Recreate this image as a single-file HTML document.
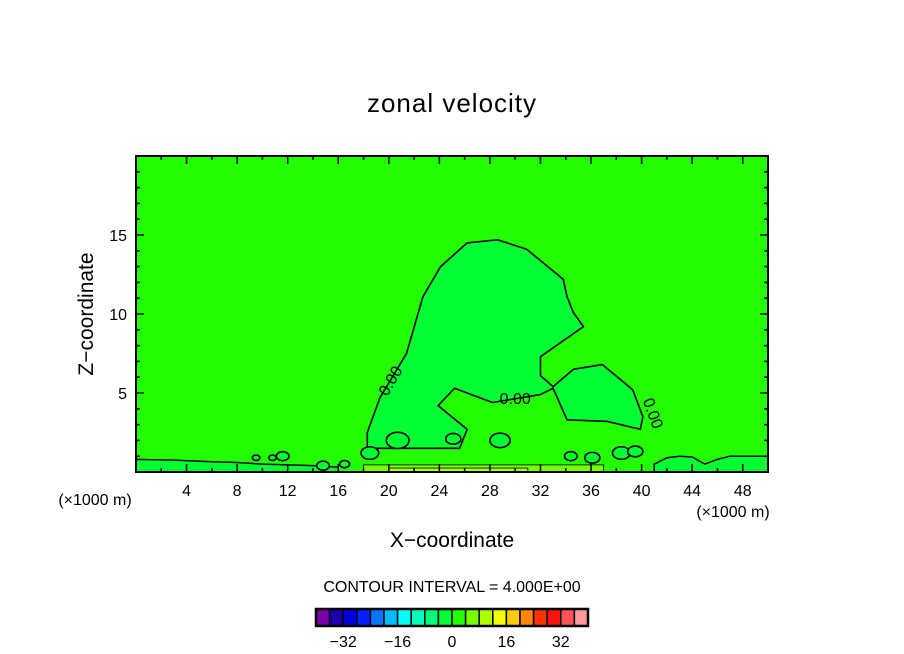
<!DOCTYPE html>
<html><head><meta charset="utf-8">
<style>
html,body{margin:0;padding:0;background:#fff;}
svg{display:block;font-family:"Liberation Sans",sans-serif;}
</style></head>
<body>
<svg id="chart" width="904" height="654" viewBox="0 0 904 654">
<text x="452" y="112" text-anchor="middle" font-size="26" letter-spacing="1">zonal velocity</text>
<g id="plot"></g>
<g id="axes"></g>
<text x="452" y="547" text-anchor="middle" font-size="21">X−coordinate</text>
<text x="93" y="314" text-anchor="middle" font-size="21" transform="rotate(-90 93 314)">Z−coordinate</text>
<text x="95" y="505" text-anchor="middle" font-size="16">(×1000 m)</text>
<text x="733" y="517" text-anchor="middle" font-size="16">(×1000 m)</text>
<text x="452" y="592" text-anchor="middle" font-size="16">CONTOUR INTERVAL = 4.000E+00</text>
<g id="cbar"></g>
</svg>
<script>
// data
const xTicks=[4,8,12,16,20,24,28,32,36,40,44,48];
const yTicks=[5,10,15];
const cbarColors=["#7a00aa","#1a00aa","#0000dd","#0022ff","#0077ff","#00bbff","#00ffff","#00ffbb","#00ff77","#00ff33","#22ff00","#77ff00","#aaff00","#eeff00","#ffcc00","#ff8800","#ff3300","#ff1111","#ff5555","#ff9999"];
const cbarLabels=[-32,-16,0,16,32];
const blobX=[18.3,18.3,19.3,21.4,22.7,24.1,26.2,28.6,30.9,33.8,34.1,34.6,35.4,32.0,32.0,33.0,34.6,36.9,39.3,40.1,39.9,37.3,34.1,33.0,32.0,28.2,25.2,23.9,26.2,25.6];
const blobZ=[1.5,2.5,4.7,7.5,11.1,13.0,14.5,14.7,14.1,12.2,11.1,10.1,9.2,7.3,6.1,5.4,6.5,6.8,5.2,3.5,2.7,3.2,3.3,5.3,4.9,4.4,5.3,4.2,2.7,1.5];
const bandLX=[0,3,6,8,10,12,14,16];
const bandLZ=[0.8,0.75,0.65,0.6,0.5,0.45,0.4,0.3];
const bandRX=[41,42,43,44,45,46,47,48,50];
const bandRZ=[0.5,0.9,1.0,0.95,0.5,0.8,1.0,1.0,1.0];
const isleX=[9.5,10.8,11.6,18.5,20.7,25.1,28.8,34.4,36.1,38.4,39.5,14.8,16.5];
const isleZ=[0.9,0.9,1.0,1.2,2.0,2.1,2.0,1.0,0.9,1.2,1.3,0.4,0.5];
const isleR=[0.3,0.3,0.5,0.7,0.9,0.6,0.8,0.5,0.6,0.7,0.6,0.5,0.4];
// axis functions
const X0=136,X1=768,Y0=472,Y1=156;
const sx=v=>X0+(v/50)*(X1-X0);
const sz=v=>Y0-(v/20)*(Y0-Y1);
const NS="http://www.w3.org/2000/svg";
function mk(tag,attrs,parent){const e=document.createElementNS(NS,tag);for(const k in attrs)e.setAttribute(k,attrs[k]);parent.appendChild(e);return e;}
const plot=document.getElementById('plot');
const bg=mk('rect',{x:X0,y:Y1,width:X1-X0,height:Y0-Y1,fill:'#22ff00'},plot);


let d='M'+sx(0)+','+sz(0);
bandLX.forEach((x,i)=>{d+=' L'+sx(x)+','+sz(bandLZ[i]);});
d+=' L'+sx(16)+','+sz(0)+'Z';
const bl=mk('path',{d:d,fill:'#00ff33',stroke:'#000','stroke-width':1.5},plot);


d='M'+sx(41)+','+sz(0);
bandRX.forEach((x,i)=>{d+=' L'+sx(x)+','+sz(bandRZ[i]);});
d+=' L'+sx(50)+','+sz(0)+'Z';
const br=mk('path',{d:d,fill:'#00ff33',stroke:'#000','stroke-width':1.5},plot);


const yb=mk('rect',{x:sx(18),y:sz(0.45),width:sx(37)-sx(18),height:sz(0)-sz(0.45),fill:'#77ff00',stroke:'#000','stroke-width':0.8},plot);


const yb2=mk('rect',{x:sx(20),y:sz(0.25),width:sx(31)-sx(20),height:sz(0)-sz(0.25),fill:'#aaff00',stroke:'#000','stroke-width':0.8},plot);


d='';
blobX.forEach((x,i)=>{d+=(i?' L':'M')+sx(x)+','+sz(blobZ[i]);});
d+='Z';
const blob=mk('path',{d:d,fill:'#00ff33',stroke:'#000','stroke-width':1.6,'stroke-linejoin':'round'},plot);


isleX.forEach((x,i)=>{
 const e=mk('ellipse',{cx:sx(x),cy:sz(isleZ[i]),rx:isleR[i]*12.64,ry:isleR[i]*9,fill:'#00ff33',stroke:'#000','stroke-width':1.6},plot);
 
 
});
function lab(x,z,rot,name){const t=mk('text',{x:sx(x),y:sz(z),'font-size':16,'text-anchor':'middle',transform:'rotate('+rot+' '+sx(x)+' '+sz(z)+')'},plot);t.textContent='0.00';
 
 }
lab(20.5,5.6,-60,'contour-label-left');
lab(30,4.3,0,'contour-label-center');
lab(40.5,3.6,70,'contour-label-right');
const ax=document.getElementById('axes');
const fr=mk('rect',{x:X0,y:Y1,width:X1-X0,height:Y0-Y1,fill:'none',stroke:'#000','stroke-width':2},ax);


for(let v=2;v<50;v+=2){const L=(v%4===0)?8:4;
 mk('line',{x1:sx(v),x2:sx(v),y1:Y0,y2:Y0-L,stroke:'#000','stroke-width':1.5},ax);
 mk('line',{x1:sx(v),x2:sx(v),y1:Y1,y2:Y1+L,stroke:'#000','stroke-width':1.5},ax);}
for(let v=1;v<20;v++){const L=(v%5===0)?8:4;
 mk('line',{x1:X0,x2:X0+L,y1:sz(v),y2:sz(v),stroke:'#000','stroke-width':1.5},ax);
 mk('line',{x1:X1,x2:X1-L,y1:sz(v),y2:sz(v),stroke:'#000','stroke-width':1.5},ax);}
xTicks.forEach(v=>{const t=mk('text',{x:sx(v),y:496,'font-size':16,'text-anchor':'middle'},ax);t.textContent=v;
 
 });
yTicks.forEach(v=>{const t=mk('text',{x:127,y:sz(v)+6,'font-size':16,'text-anchor':'end'},ax);t.textContent=v;
 
 });
const cb=document.getElementById('cbar');
const CB0=316,CBW=13.6,CBY=609,CBH=17;
cbarColors.forEach((c,i)=>{const r=mk('rect',{x:CB0+i*CBW,y:CBY,width:CBW,height:CBH,fill:c,stroke:'#000','stroke-width':1.5},cb);
 
 });
const cbf=mk('rect',{x:CB0,y:CBY,width:CBW*cbarColors.length,height:CBH,fill:'none',stroke:'#000','stroke-width':2.5},cb);


cbarLabels.forEach(v=>{const t=mk('text',{x:CB0+(v+40)/4*CBW,y:647,'font-size':16,'text-anchor':'middle'},cb);t.textContent=(v<0?'−':'')+Math.abs(v);
 
 });
</script>
</body></html>
